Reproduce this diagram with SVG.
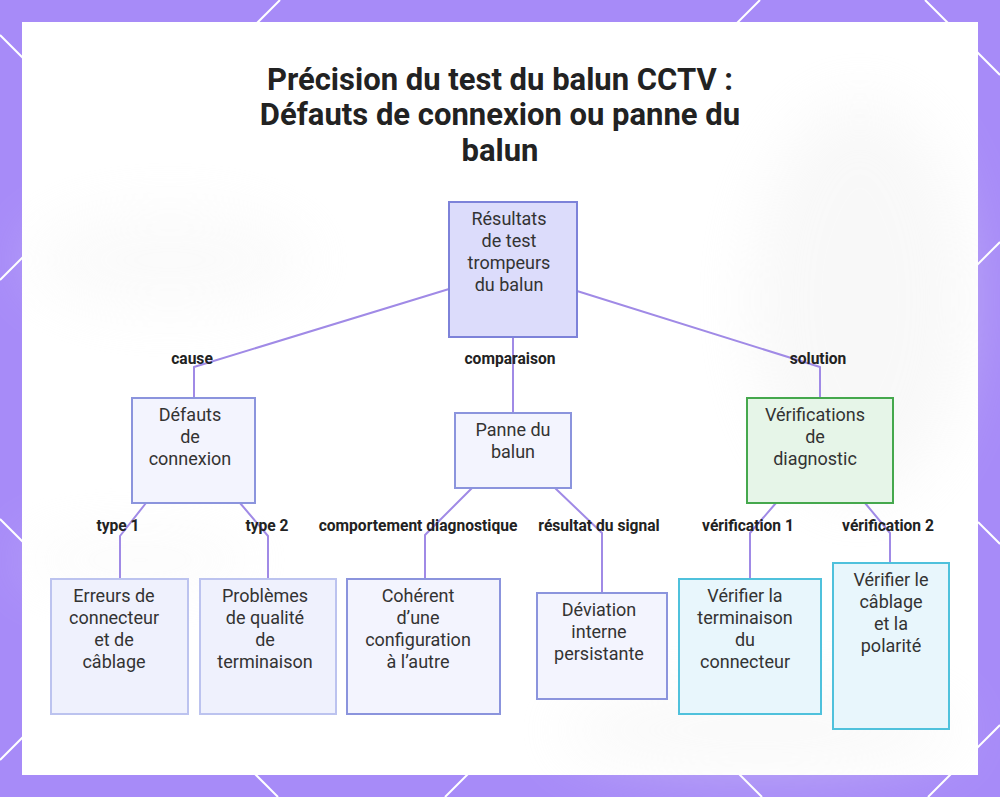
<svg xmlns="http://www.w3.org/2000/svg" width="1000" height="797" viewBox="0 0 1000 797">
  <defs>
    <style>
      .title { font-family: Roboto, "Liberation Sans", sans-serif; font-weight: 700; font-size: 31px; fill: #222222; text-anchor: middle; }
      .nt { font-family: Roboto, "Liberation Sans", sans-serif; font-weight: 400; font-size: 18px; fill: #333333; text-anchor: middle; }
      .el { font-family: Roboto, "Liberation Sans", sans-serif; font-weight: 700; font-size: 15.6px; fill: #222222; text-anchor: middle; }
      .edge { fill: none; stroke: #a08ae6; stroke-width: 2; stroke-linejoin: round; }
      .deco { stroke: #ffffff; stroke-width: 2; fill: none; }
      .root { fill: #dcdcfb; stroke: #7d82d9; stroke-width: 2; }
      .mid { fill: #f3f4fe; stroke: #8b94dd; stroke-width: 2; }
      .leaf { fill: #eff1fd; stroke: #bcc3ef; stroke-width: 2; }
      .ok { fill: #e6f5e8; stroke: #45a84d; stroke-width: 2; }
      .chk { fill: #e8f6fc; stroke: #4fc1dc; stroke-width: 2; }
    </style>
    <filter id="blur" x="-50%" y="-50%" width="200%" height="200%">
      <feGaussianBlur stdDeviation="30"/>
    </filter>
  </defs>

  <!-- purple frame -->
  <rect x="0" y="0" width="1000" height="797" fill="#a78bf8"/>
  <g id="frame-lines">
    <line class="deco" x1="280" y1="0" x2="0" y2="280"/>
    <line class="deco" x1="760" y1="0" x2="0" y2="760"/>
    <line class="deco" x1="0" y1="35" x2="762" y2="797"/>
    <line class="deco" x1="0" y1="519" x2="278" y2="797"/>
    <line class="deco" x1="925" y1="0" x2="1000" y2="75"/>
    <line class="deco" x1="1000" y1="242" x2="445" y2="797"/>
    <line class="deco" x1="1000" y1="725" x2="928" y2="797"/>
    <line class="deco" x1="978" y1="522" x2="1000" y2="544"/>
  </g>

  <!-- white panel -->
  <rect x="22" y="22" width="956" height="753" fill="#ffffff"/>
  <g id="panel-shading" filter="url(#blur)" opacity="0.35">
    <ellipse cx="860" cy="300" rx="110" ry="200" fill="#ececec"/>
    <ellipse cx="760" cy="730" rx="200" ry="40" fill="#eeeeee"/>
    <ellipse cx="170" cy="260" rx="140" ry="50" fill="#f2f2f2"/>
    <ellipse cx="140" cy="560" rx="120" ry="25" fill="#f4f4f4"/>
  </g>

  <!-- title -->
  <g id="title">
    <text class="title" x="500" y="90">Précision du test du balun CCTV :</text>
    <text class="title" x="500" y="125">Défauts de connexion ou panne du</text>
    <text class="title" x="500" y="161">balun</text>
  </g>

  <!-- connectors -->
  <g id="connectors">
    <path class="edge" d="M449,289 L194,367 L194,398"/>
    <path class="edge" d="M513,337 L513,413"/>
    <path class="edge" d="M577,291 L820,367 L820,398"/>
    <path class="edge" d="M146,503 L120,536 L120,579"/>
    <path class="edge" d="M240,503 L268,536 L268,579"/>
    <path class="edge" d="M472,488 L425,535 L425,579"/>
    <path class="edge" d="M555,488 L602,533 L602,593"/>
    <path class="edge" d="M776,503 L750,533 L750,579"/>
    <path class="edge" d="M865,503 L890,533 L890,563"/>
  </g>

  <!-- nodes -->
  <g id="node-root">
    <rect class="root" x="449" y="202" width="128" height="135"/>
    <text class="nt" x="509" y="225">Résultats</text>
    <text class="nt" x="509" y="247">de test</text>
    <text class="nt" x="509" y="269">trompeurs</text>
    <text class="nt" x="509" y="291">du balun</text>
  </g>
  <g id="node-defauts">
    <rect class="mid" x="132" y="398" width="123" height="105"/>
    <text class="nt" x="190" y="421">Défauts</text>
    <text class="nt" x="190" y="443">de</text>
    <text class="nt" x="190" y="465">connexion</text>
  </g>
  <g id="node-panne">
    <rect class="mid" x="455" y="413" width="116" height="75"/>
    <text class="nt" x="513" y="436">Panne du</text>
    <text class="nt" x="513" y="458">balun</text>
  </g>
  <g id="node-verifications">
    <rect class="ok" x="747" y="398" width="146" height="105"/>
    <text class="nt" x="815" y="421">Vérifications</text>
    <text class="nt" x="815" y="443">de</text>
    <text class="nt" x="815" y="465">diagnostic</text>
  </g>
  <g id="node-erreurs">
    <rect class="leaf" x="51" y="579" width="137" height="135"/>
    <text class="nt" x="114" y="602">Erreurs de</text>
    <text class="nt" x="114" y="624">connecteur</text>
    <text class="nt" x="114" y="646">et de</text>
    <text class="nt" x="114" y="668">câblage</text>
  </g>
  <g id="node-problemes">
    <rect class="leaf" x="200" y="579" width="136" height="135"/>
    <text class="nt" x="265" y="602">Problèmes</text>
    <text class="nt" x="265" y="624">de qualité</text>
    <text class="nt" x="265" y="646">de</text>
    <text class="nt" x="265" y="668">terminaison</text>
  </g>
  <g id="node-coherent">
    <rect class="mid" x="347" y="579" width="153" height="135"/>
    <text class="nt" x="418" y="602">Cohérent</text>
    <text class="nt" x="418" y="624">d’une</text>
    <text class="nt" x="418" y="646">configuration</text>
    <text class="nt" x="418" y="668">à l’autre</text>
  </g>
  <g id="node-deviation">
    <rect class="mid" x="537" y="593" width="130" height="106"/>
    <text class="nt" x="599" y="616">Déviation</text>
    <text class="nt" x="599" y="638">interne</text>
    <text class="nt" x="599" y="660">persistante</text>
  </g>
  <g id="node-verifier-terminaison">
    <rect class="chk" x="679" y="579" width="142" height="135"/>
    <text class="nt" x="745" y="602">Vérifier la</text>
    <text class="nt" x="745" y="624">terminaison</text>
    <text class="nt" x="745" y="646">du</text>
    <text class="nt" x="745" y="668">connecteur</text>
  </g>
  <g id="node-verifier-cablage">
    <rect class="chk" x="833" y="563" width="116" height="166"/>
    <text class="nt" x="891" y="586">Vérifier le</text>
    <text class="nt" x="891" y="608">câblage</text>
    <text class="nt" x="891" y="630">et la</text>
    <text class="nt" x="891" y="652">polarité</text>
  </g>

  <!-- edge labels -->
  <g id="edge-labels">
    <text class="el" x="192" y="364">cause</text>
    <text class="el" x="510" y="364">comparaison</text>
    <text class="el" x="818" y="364">solution</text>
    <text class="el" x="118" y="531">type 1</text>
    <text class="el" x="267" y="531">type 2</text>
    <text class="el" x="418" y="531">comportement diagnostique</text>
    <text class="el" x="599" y="531">résultat du signal</text>
    <text class="el" x="748" y="531">vérification 1</text>
    <text class="el" x="888" y="531">vérification 2</text>
  </g>
</svg>
